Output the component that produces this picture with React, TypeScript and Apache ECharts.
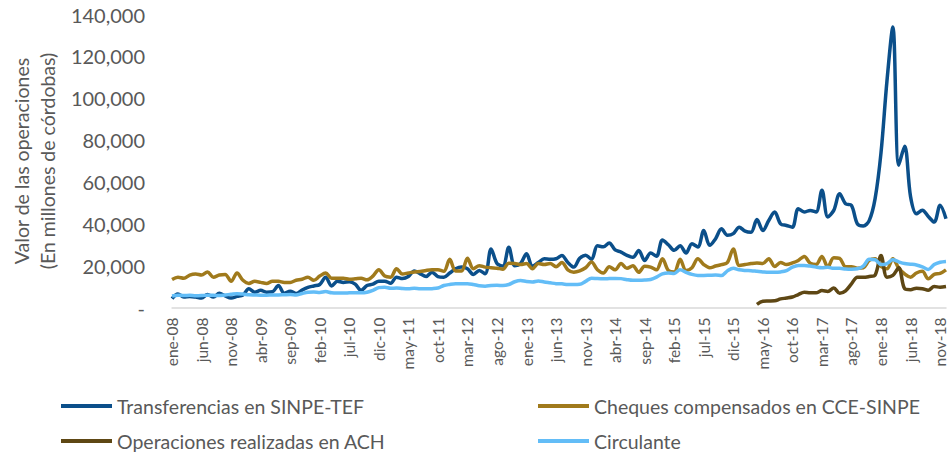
import React, { useEffect, useRef } from "react";
import * as echarts from "echarts";

const MONTHS = ["ene", "feb", "mar", "abr", "may", "jun", "jul", "ago", "sep", "oct", "nov", "dic"];
const YEARS = ["08", "09", "10", "11", "12", "13", "14", "15", "16", "17", "18"];
const CATEGORIES = YEARS.flatMap((y) => MONTHS.map((m) => `${m}-${y}`));

const SERIES_NAMES = [
  "Transferencias en SINPE-TEF",
  "Cheques compensados en CCE-SINPE",
  "Operaciones realizadas en ACH",
  "Circulante",
];

const TEF = [
  4200, 6500, 5000, 5300, 5000, 4500, 6200, 5000, 6800, 5500,
  4500, 5300, 6000, 8900, 7300, 8200, 7300, 7500, 10500, 6800,
  7800, 6700, 8300, 9600, 10300, 11000, 14500, 10300, 12600, 12000,
  12300, 11200, 8200, 10500, 11200, 12600, 12600, 11600, 14500, 13800,
  14800, 17500, 16100, 14800, 16900, 14800, 14500, 16500, 18500, 19300,
  18500, 15800, 17700, 16100, 28000, 21000, 19800, 28800, 20000, 21000,
  25700, 19800, 21500, 23300, 23000, 23300, 24800, 21500, 19300, 23500,
  25000, 23000, 29500, 29000, 30800, 27500, 26500, 24900, 24000, 27200,
  22500, 26000, 24500, 32300, 30000, 27300, 29500, 26000, 30500, 28900,
  36800, 29700, 32900, 37600, 34500, 35300, 38400, 36500, 36000, 42000,
  36800, 41600, 45600, 40000, 39200, 38400, 47200, 45600, 46400, 45600,
  56000, 43200, 46400, 54400, 49600, 48800, 40000, 39000, 41500, 52000,
  74000, 108000, 134000, 68000, 77000, 53000, 44800, 46500, 43500, 40800, 48800, 42400,
];

const CCE = [
  13400, 14500, 14000, 15500, 16000, 15500, 17000, 14500, 15500, 15800,
  12500, 16500, 13000, 11500, 12500, 12000, 11500, 12500, 12500, 12000,
  12000, 13000, 13500, 14500, 13000, 15000, 16500, 14000, 14000, 14000,
  13500, 13700, 14000, 13200, 15000, 18000, 15000, 14500, 18500, 16000,
  16500, 17000, 17200, 17700, 18000, 18000, 17300, 23000, 17500, 17500,
  23500, 18500, 20000, 19300, 19000, 18800, 18300, 21200, 21000, 20500,
  21000, 18500, 21000, 20500, 21000, 19500, 21500, 18000, 16900, 17500,
  19000, 21700, 18000, 16500, 19500, 18000, 21000, 18700, 20000, 16800,
  19700, 19300, 18000, 23300, 17700, 17000, 23000, 17700, 19000, 23300,
  20500, 19000, 19800, 20500, 21500, 28000, 20100, 20500, 21000, 21300,
  21000, 23300, 19600, 21500, 20500, 21300, 22500, 24400, 21200, 20500,
  24400, 19300, 23800, 23500, 19500, 19500, 18800, 19000, 22500, 23300,
  19600, 18500, 23300, 18800, 16000, 14500, 16500, 17300, 13700, 15800, 16300, 18000,
];

const ACH = [
  null, null, null, null, null, null, null, null, null, null,
  null, null, null, null, null, null, null, null, null, null,
  null, null, null, null, null, null, null, null, null, null,
  null, null, null, null, null, null, null, null, null, null,
  null, null, null, null, null, null, null, null, null, null,
  null, null, null, null, null, null, null, null, null, null,
  null, null, null, null, null, null, null, null, null, null,
  null, null, null, null, null, null, null, null, null, null,
  null, null, null, null, null, null, null, null, null, null,
  null, null, null, null, null, null, null, null, null, 1500,
  3000, 3100, 3200, 4100, 4500, 5000, 6200, 7300, 7000, 7000,
  8100, 7700, 9300, 6800, 8000, 11300, 14500, 14400, 14800, 15500,
  24900, 14500, 15300, 19000, 9000, 8500, 9200, 9000, 8300, 10000, 9700, 10000,
];

const CIRC = [
  5500, 5900, 5700, 5800, 5600, 5700, 5900, 5800, 5700, 6000,
  6300, 6600, 6400, 6100, 6000, 5900, 5900, 6000, 6000, 6100,
  6200, 6000, 6700, 7300, 7400, 7200, 7600, 7000, 6900, 6900,
  7000, 7100, 7000, 7300, 8200, 9500, 9700, 9200, 9300, 9100,
  9000, 9200, 8900, 8900, 9000, 9300, 10500, 11000, 11300, 11300,
  11400, 11000, 10400, 10200, 10500, 10600, 10500, 11000, 12300, 12900,
  12400, 12200, 12700, 12200, 11800, 11400, 11300, 11000, 11000, 11100,
  12500, 14000, 13800, 13700, 13800, 13900, 13800, 13300, 13000, 13000,
  13100, 13400, 14500, 16100, 16500, 16300, 18000, 16800, 15800, 15300,
  15300, 15400, 15500, 15300, 17500, 18800, 18000, 17700, 17600, 17300,
  17000, 16800, 16800, 17000, 17600, 19300, 20100, 20100, 19800, 19300,
  19000, 19200, 18700, 18700, 18400, 18300, 18500, 19800, 23000, 22800,
  20500, 21000, 22800, 21800, 21000, 20700, 20300, 19400, 18200, 20500, 21600, 22000,
];

const COLORS = ["#0B4F8A", "#A07A1C", "#5E4714", "#63BDF7"];
const TEXT = "#595959";
const FONT = "Lato";

function fmt(v: number): string {
  if (v === 0) return "-";
  return String(v).replace(/\B(?=(\d{3})+(?!\d))/g, ",");
}

export default function App() {
  const ref = useRef<HTMLDivElement>(null);

  useEffect(() => {
    const chart = echarts.init(ref.current!, null, { renderer: "svg" });
    const values = [TEF, CCE, ACH, CIRC];
    const legendPos = [
      { left: 61, top: 395 },
      { left: 538, top: 395 },
      { left: 61, top: 430 },
      { left: 538, top: 430 },
    ];
    chart.setOption({
      animation: false,
      backgroundColor: "#ffffff",
      textStyle: { fontFamily: FONT },
      grid: { left: 165, right: 4, top: 14.5, bottom: 149.5, containLabel: false },
      legend: SERIES_NAMES.map((n, i) => ({
        data: [n],
        left: legendPos[i].left,
        top: legendPos[i].top,
        padding: 0,
        icon: "rect",
        itemWidth: 51,
        itemHeight: 4,
        selectedMode: false,
        textStyle: { fontFamily: FONT, fontSize: 19.5, color: TEXT, lineHeight: 22 },
      })),
      xAxis: {
        type: "category",
        data: CATEGORIES,
        boundaryGap: false,
        axisLine: { lineStyle: { color: "#d9d9d9", width: 1.5 } },
        axisTick: { show: false },
        splitLine: { show: false },
        axisLabel: {
          interval: 4,
          rotate: 90,
          fontSize: 15.5,
          color: TEXT,
          fontFamily: FONT,
          margin: 10,
        },
      },
      yAxis: {
        type: "value",
        min: 0,
        max: 140000,
        interval: 20000,
        splitLine: { show: false },
        axisLine: { show: false },
        axisTick: { show: false },
        axisLabel: {
          formatter: (v: number) => fmt(v),
          color: TEXT,
          fontSize: 20,
          fontFamily: FONT,
          margin: 27,
        },
        name: "Valor de las operaciones\n(En millones de córdobas)",
        nameLocation: "middle",
        nameRotate: 90,
        nameGap: 109,
        nameTextStyle: { color: TEXT, fontSize: 19.5, fontFamily: FONT, lineHeight: 26 },
      },
      series: SERIES_NAMES.map((n, i) => ({
        name: n,
        type: "line",
        data: values[i],
        showSymbol: false,
        smooth: 0.33,
        color: COLORS[i],
        lineStyle: { width: 3.5, color: COLORS[i] },
        connectNulls: false,
      })),
    });
    return () => chart.dispose();
  }, []);

  return (
    <div
      ref={ref}
      style={{ position: "fixed", left: 0, top: 0, width: 950, height: 457, background: "#fff" }}
    />
  );
}
